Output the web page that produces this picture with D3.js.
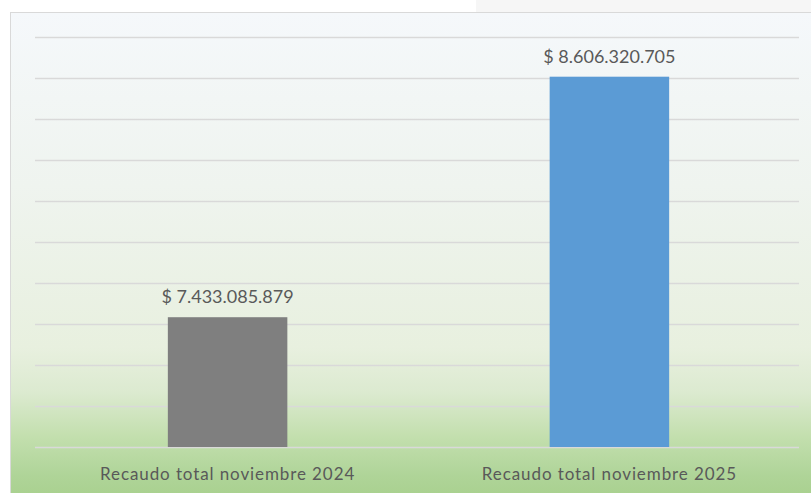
<!DOCTYPE html>
<html>
<head>
<meta charset="utf-8">
<script src="https://cdn.jsdelivr.net/npm/d3@7"></script>
<style>
  body { margin: 0; background: #fff; }
  svg { display: block; }
</style>
</head>
<body>
<svg id="chart" width="811" height="493"></svg>
<script>
const categories = ['Recaudo total noviembre 2024', 'Recaudo total noviembre 2025']
const values = [7433085879, 8606320705]
const valueLabels = ['$ 7.433.085.879', '$ 8.606.320.705']
const barColors = ['#7f7f7f', '#5b9bd5']
const yDomain = [6.8e9, 8.8e9]

const svg = d3.select('#chart')
const width = 811, height = 493

// background gradient (white-blue at top, green at the bottom)
const defs = svg.append('defs')
const grad = defs.append('linearGradient')
  .attr('id', 'bg')
  .attr('x1', 0).attr('y1', 0).attr('x2', 0).attr('y2', 1)
const stops = [
  [0, '#f5f8fb'], [0.35, '#eff4ef'], [0.68, '#e8f0df'],
  [0.77, '#dcead0'], [0.86, '#c3dfae'], [0.94, '#afd498'], [1, '#a6cf8b']
]
stops.forEach(s => grad.append('stop').attr('offset', s[0]).attr('stop-color', s[1]))

// faint shadow strip above the chart frame
svg.append('rect')
  .attr('x', 476).attr('y', 0).attr('width', width - 476).attr('height', 12)
  .attr('fill', '#f6f6f6')

svg.append('rect')
  .attr('x', 10.5).attr('y', 12.5)
  .attr('width', width).attr('height', height)
  .attr('fill', 'url(#bg)')
  .attr('stroke', '#d9d9d9')

// scales
const x = d3.scaleBand()
  .domain(categories)
  .range([36.5, 800.5])
  .paddingInner(0.687)
  .paddingOuter(0.344)

const y = d3.scaleLinear()
  .domain(yDomain)
  .range([447, 37])

// horizontal grid (axis labels hidden, like the original)
const grid = svg.append('g')
  .attr('transform', 'translate(35,0)')
  .call(d3.axisLeft(y).ticks(10).tickSize(-764).tickFormat(''))
grid.select('.domain').remove()
grid.selectAll('line')
  .attr('stroke', '#d9d9d9')
  .attr('stroke-width', 1.5)

// bars
svg.append('g')
  .selectAll('rect')
  .data(values)
  .join('rect')
  .attr('x', (d, i) => x(categories[i]))
  .attr('y', d => y(d))
  .attr('width', x.bandwidth())
  .attr('height', d => y(yDomain[0]) - y(d))
  .attr('fill', (d, i) => barColors[i])

// value labels
svg.append('g')
  .attr('font-family', 'Lato, sans-serif')
  .attr('font-size', 18)
  .attr('fill', '#595959')
  .attr('text-anchor', 'middle')
  .selectAll('text')
  .data(values)
  .join('text')
  .attr('x', (d, i) => x(categories[i]) + x.bandwidth() / 2)
  .attr('y', d => y(d) - 14)
  .text((d, i) => valueLabels[i])

// category axis
const xAxis = svg.append('g')
  .attr('transform', `translate(0, ${y(yDomain[0])})`)
  .call(d3.axisBottom(x).tickSize(0).tickPadding(21))
xAxis.select('.domain').remove()
xAxis.selectAll('text')
  .attr('font-family', 'Lato, sans-serif')
  .attr('font-size', 17)
  .attr('letter-spacing', 0.9)
  .attr('fill', '#595959')
</script>
</body>
</html>
